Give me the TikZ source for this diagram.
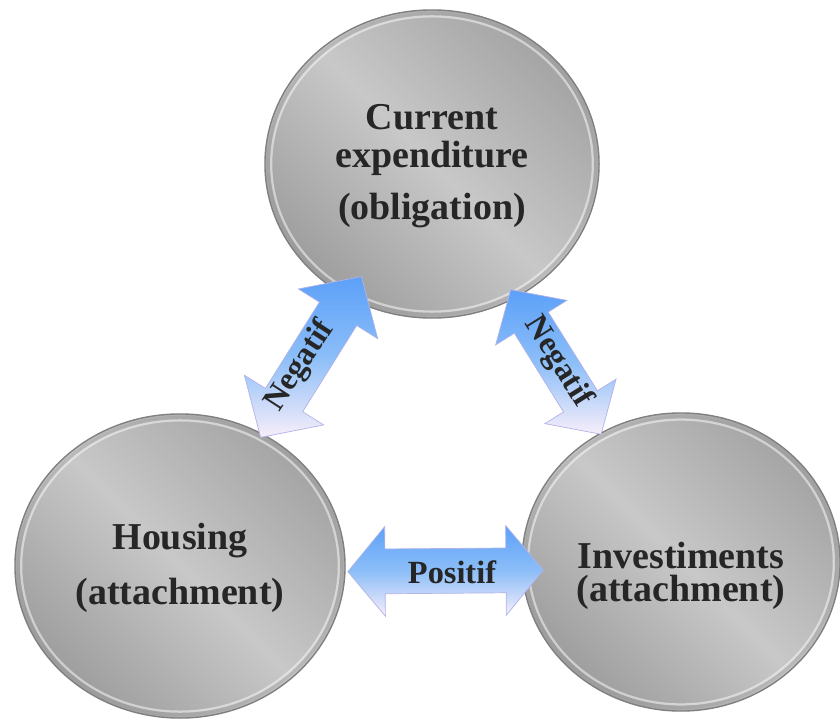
\documentclass[tikz,border=0pt]{standalone}
\usepackage{fontspec}
\setmainfont{Liberation Serif}
\usetikzlibrary{calc, shapes.geometric}

\definecolor{ballhi}{RGB}{200,200,200}
\definecolor{balllo}{RGB}{164,164,164}
\definecolor{arrowtop}{RGB}{92,160,248}
\definecolor{arrowmid}{RGB}{140,190,248}
\definecolor{arrowbot}{RGB}{248,238,250}

\tikzset{
  ball/.style={ellipse, inner sep=0pt, draw=black!50, line width=1pt,
    shading=axis, top color=balllo, bottom color=balllo!96!black, middle color=ballhi,
    shading angle=-45},
  caption/.style={text=black!85, align=center, inner sep=0pt,
    font=\fontsize{27}{31}\selectfont\bfseries},
  rim/.style={draw=white, line width=1.6pt, opacity=0.5},
  rimdark/.style={draw=black!40, line width=3pt, opacity=0.3},
  twoway/.style={top color=arrowtop, bottom color=arrowbot, middle color=arrowmid,
    draw=black!30!blue!30, line width=0.5pt},
  tag/.style={text=black!85, font=\fontsize{23}{25}\selectfont\bfseries, inner sep=0pt}
}

\begin{document}
\begin{tikzpicture}[x=0.025cm, y=-0.025cm]
  \useasboundingbox (0,0) rectangle (840,721);

  % the three balls
  \node[ball, minimum width=8.35cm, minimum height=7.7cm] (curr) at (432,164) {};
  \node[ball, minimum width=8.25cm, minimum height=7.6cm] (house) at (180,566) {};
  \node[ball, minimum width=7.95cm, minimum height=7.45cm] (inv) at (681,562) {};

  % bevelled rims
  \foreach \b/\rx/\ry in {curr/4.05/3.72, house/4.0/3.67, inv/3.85/3.59} {
    \draw[rimdark] (\b.center) ellipse [x radius=\rx cm+0.03cm, y radius=\ry cm+0.03cm];
    \draw[rim] (\b.center) ellipse [x radius=\rx cm-0.03cm, y radius=\ry cm-0.03cm];
  }

  % their texts
  \node[caption] (currtxt) at ($(curr)+(0,2)$) {Current\\[-4pt] expenditure\\[6pt] (obligation)};
  \node[caption] (housetxt) at ($(house)+(0,2)$) {Housing\\[8pt] (attachment)};
  \node[caption] (invtxt) at ($(inv)+(0,14)$) {Investiments\\[-8pt] (attachment)};

  % arrow ends
  \coordinate (hc1) at ($(house)!0.32!(curr)$);
  \coordinate (hc2) at ($(house)!0.72!(curr)$);
  \coordinate (ci1) at ($(curr)!0.316!(inv)$);
  \coordinate (ci2) at ($(curr)!0.679!(inv)$);
  \coordinate (hi1) at ($(house)!0.335!(inv)+(0,7)$);
  \coordinate (hi2) at ($(house)!0.725!(inv)+(0,7)$);

  % double arrows: ends / head length / head half width / shaft half width
  \foreach \a/\b/\h/\w/\s in {hc1/hc2/1.1cm/1.17cm/0.55cm,
                              ci1/ci2/0.97cm/1.05cm/0.5cm,
                              hi1/hi2/0.93cm/1.12cm/0.56cm} {
    \path[twoway] (\a) -- ($(\a)!\h!(\b)!\w!90:(\b)$) -- ($(\a)!\h!(\b)!\s!90:(\b)$)
      -- ($(\b)!\h!(\a)!\s!-90:(\a)$) -- ($(\b)!\h!(\a)!\w!-90:(\a)$) -- (\b)
      -- ($(\b)!\h!(\a)!\w!90:(\a)$) -- ($(\b)!\h!(\a)!\s!90:(\a)$)
      -- ($(\a)!\h!(\b)!\s!-90:(\b)$) -- ($(\a)!\h!(\b)!\w!-90:(\b)$) -- cycle;
  }

  \node[tag, rotate=57] (neg1) at (300,366) {Negatif};
  \node[tag, rotate=-58] (neg2) at (558,362) {Negatif};
  \node[tag] (pos) at (452,572) {Positif};
\end{tikzpicture}
\end{document}
